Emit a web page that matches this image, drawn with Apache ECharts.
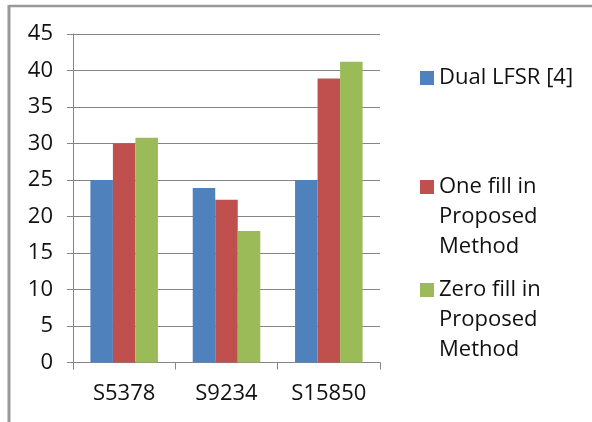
<!DOCTYPE html>
<html>
<head>
<meta charset="utf-8">
<script src="https://cdn.jsdelivr.net/npm/echarts@6/dist/echarts.min.js"></script>
<style>
html,body{margin:0;padding:0;background:#fff;}
#chart{width:592px;height:422px;}
</style>
</head>
<body>
<div id="chart"></div>
<script>
const categories = ['S5378', 'S9234', 'S15850'];
const seriesNames = ['Dual LFSR [4]', 'One fill in Proposed Method', 'Zero fill in Proposed Method'];
const legendLabels = ['Dual LFSR [4]', '\n\nOne fill in\nProposed\nMethod', '\n\nZero fill in\nProposed\nMethod'];
const dualLFSR = [25.0, 23.9, 25.0];
const oneFill = [30.0, 22.3, 38.9];
const zeroFill = [30.8, 18.0, 41.2];
const yTicks = { min: 0, max: 45, interval: 5 };

const colors = ['#4F81BD', '#C0504D', '#9BBB59'];
const FONT = 'Open Sans';
const chart = echarts.init(document.getElementById('chart'), null, { renderer: 'canvas' });

function legendFor(i, top) {
  return {
    data: [seriesNames[i]],
    left: 420,
    top: top,
    padding: 0,
    itemWidth: 14,
    itemHeight: 14,
    selectedMode: false,
    icon: 'rect',
    formatter: function (name) { return legendLabels[seriesNames.indexOf(name)]; },
    textStyle: { fontFamily: FONT, fontSize: 22, color: '#111', lineHeight: 30 }
  };
}

chart.setOption({
  animation: false,
  backgroundColor: '#fff',
  color: colors,
  grid: { left: 73, right: 212, top: 34, bottom: 59.5, containLabel: false },
  legend: [
    legendFor(0, 63),
    legendFor(1, 112),
    legendFor(2, 215)
  ],
  xAxis: {
    type: 'category',
    data: categories,
    axisLine: { show: true, lineStyle: { color: '#858585', width: 1 } },
    axisTick: { show: true, length: 7, lineStyle: { color: '#858585' } },
    axisLabel: { fontFamily: FONT, fontSize: 22, color: '#111', margin: 20 }
  },
  yAxis: {
    type: 'value',
    min: yTicks.min, max: yTicks.max, interval: yTicks.interval,
    axisLine: { show: true, lineStyle: { color: '#858585', width: 1 } },
    axisTick: { show: true, length: 6, lineStyle: { color: '#858585' } },
    axisLabel: { fontFamily: FONT, fontSize: 22, color: '#111', margin: 20 },
    splitLine: { show: true, lineStyle: { color: '#858585', width: 1 } }
  },
  series: [
    { name: seriesNames[0], type: 'bar', data: dualLFSR, barGap: '0%', barCategoryGap: '34%' },
    { name: seriesNames[1], type: 'bar', data: oneFill, barGap: '0%', barCategoryGap: '34%' },
    { name: seriesNames[2], type: 'bar', data: zeroFill, barGap: '0%', barCategoryGap: '34%' }
  ],
  graphic: [
    { type: 'line', shape: { x1: 9, y1: 6, x2: 592, y2: 6 }, style: { stroke: '#999', lineWidth: 2.5 } },
    { type: 'line', shape: { x1: 9, y1: 5, x2: 9, y2: 422 }, style: { stroke: '#999', lineWidth: 3 } }
  ]
});
</script>
</body>
</html>
